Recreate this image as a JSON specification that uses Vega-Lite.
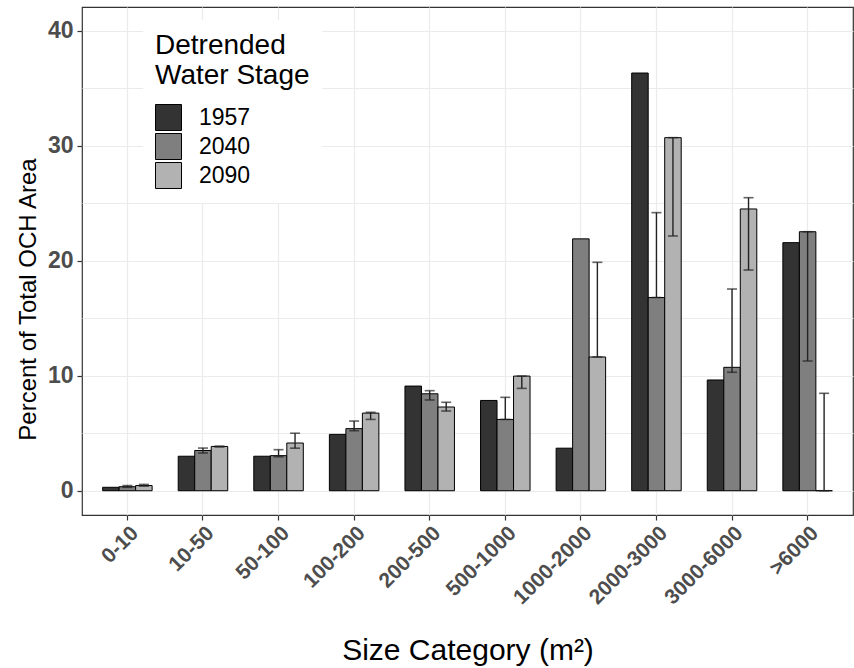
{
  "$schema": "https://vega.github.io/schema/vega-lite/v6.json",
  "autosize": "none",
  "width": 771,
  "height": 508,
  "padding": {"left": 82, "top": 7, "right": 1, "bottom": 153},
  "background": "white",
  "config": {
    "font": "Liberation Sans",
    "view": {"stroke": "#333333", "strokeWidth": 1.2}
  },
  "data": {
    "values": [
      {"size": "0-10", "year": "1957", "value": 0.3},
      {"size": "0-10", "year": "2040", "value": 0.35, "lo": 0.3, "hi": 0.45},
      {"size": "0-10", "year": "2090", "value": 0.45, "lo": 0.4, "hi": 0.55},
      {"size": "10-50", "year": "1957", "value": 3.0},
      {"size": "10-50", "year": "2040", "value": 3.5, "lo": 3.28, "hi": 3.71},
      {"size": "10-50", "year": "2090", "value": 3.85, "lo": 3.8, "hi": 3.88},
      {"size": "50-100", "year": "1957", "value": 3.0},
      {"size": "50-100", "year": "2040", "value": 3.05, "lo": 2.95, "hi": 3.57},
      {"size": "50-100", "year": "2090", "value": 4.15, "lo": 3.7, "hi": 5.0},
      {"size": "100-200", "year": "1957", "value": 4.9},
      {"size": "100-200", "year": "2040", "value": 5.4, "lo": 5.22, "hi": 6.06},
      {"size": "100-200", "year": "2090", "value": 6.75, "lo": 6.2, "hi": 6.82},
      {"size": "200-500", "year": "1957", "value": 9.1},
      {"size": "200-500", "year": "2040", "value": 8.43, "lo": 7.89, "hi": 8.7},
      {"size": "200-500", "year": "2090", "value": 7.28, "lo": 6.93, "hi": 7.69},
      {"size": "500-1000", "year": "1957", "value": 7.85},
      {"size": "500-1000", "year": "2040", "value": 6.2, "lo": 6.2, "hi": 8.12},
      {"size": "500-1000", "year": "2090", "value": 9.97, "lo": 8.9, "hi": 9.97},
      {"size": "1000-2000", "year": "1957", "value": 3.7},
      {"size": "1000-2000", "year": "2040", "value": 21.9},
      {"size": "1000-2000", "year": "2090", "value": 11.63, "lo": 11.63, "hi": 19.86},
      {"size": "2000-3000", "year": "1957", "value": 36.32},
      {"size": "2000-3000", "year": "2040", "value": 16.8, "lo": 16.8, "hi": 24.18},
      {"size": "2000-3000", "year": "2090", "value": 30.7, "lo": 22.15, "hi": 30.7},
      {"size": "3000-6000", "year": "1957", "value": 9.63},
      {"size": "3000-6000", "year": "2040", "value": 10.73, "lo": 10.3, "hi": 17.54},
      {"size": "3000-6000", "year": "2090", "value": 24.5, "lo": 19.19, "hi": 25.48},
      {"size": ">6000", "year": "1957", "value": 21.57},
      {"size": ">6000", "year": "2040", "value": 22.52, "lo": 11.28, "hi": 22.52},
      {"size": ">6000", "year": "2090", "value": 0, "lo": 0, "hi": 8.47}
    ]
  },
  "encoding": {
    "x": {
      "field": "size",
      "type": "nominal",
      "sort": ["0-10", "10-50", "50-100", "100-200", "200-500", "500-1000", "1000-2000", "2000-3000", "3000-6000", ">6000"],
      "scale": {"paddingInner": 0.345, "paddingOuter": 0.273},
      "title": "Size Category (m²)",
      "axis": {
        "bandPosition": 0.5,
        "domain": false,
        "grid": true,
        "gridColor": "#ebebeb",
        "gridWidth": 1.2,
        "ticks": true,
        "tickColor": "#333333",
        "tickSize": 5,
        "tickWidth": 1.2,
        "labelAngle": -45,
        "labelAlign": "right",
        "labelBaseline": "top",
        "labelFontSize": 21,
        "labelFontWeight": "bold",
        "labelColor": "#4d4d4d",
        "labelPadding": 2,
        "titleFontSize": 30,
        "titleFontWeight": "normal",
        "titleColor": "#000000",
        "titlePadding": 28
      }
    },
    "xOffset": {"field": "year", "type": "nominal", "scale": {"paddingInner": 0, "paddingOuter": 0}},
    "y": {
      "type": "quantitative",
      "scale": {"domain": [-2.11, 42.06], "nice": false, "zero": false},
      "title": "Percent of Total OCH Area",
      "axis": {
        "values": [0, 5, 10, 15, 20, 25, 30, 35, 40],
        "labelExpr": "datum.value % 10 === 0 ? datum.label : ''",
        "domain": false,
        "grid": true,
        "gridColor": "#ebebeb",
        "gridWidth": 1.2,
        "tickColor": "#333333",
        "tickSize": 5,
        "tickWidth": 1.2,
        "tickOpacity": {"condition": {"test": "datum.value % 10 === 0", "value": 1}, "value": 0},
        "labelFontSize": 23,
        "labelFontWeight": "bold",
        "labelColor": "#4d4d4d",
        "labelPadding": 4,
        "titleFontSize": 24,
        "titleFontWeight": "normal",
        "titleColor": "#000000",
        "titlePadding": 7,
        "titleY": 292
      }
    }
  },
  "layer": [
    {
      "mark": {"type": "bar", "stroke": "#000000", "strokeWidth": 1},
      "encoding": {
        "y": {"field": "value", "type": "quantitative"},
        "y2": {"datum": 0},
        "fill": {
          "field": "year",
          "type": "nominal",
          "scale": {"domain": ["1957", "2040", "2090"], "range": ["#333333", "#7f7f7f", "#b2b2b2"]},
          "legend": {
            "title": ["Detrended", "Water Stage"],
            "orient": "none",
            "legendX": 61,
            "legendY": 13,
            "fillColor": "white",
            "padding": 12,
            "titleFontSize": 28,
            "titleFontWeight": "normal",
            "titleColor": "#000000",
            "titleLineHeight": 30,
            "titlePadding": 14,
            "symbolType": "square",
            "symbolSize": 676,
            "symbolStrokeColor": "#000000",
            "symbolStrokeWidth": 1,
            "symbolOpacity": 1,
            "labelFontSize": 23,
            "labelColor": "#000000",
            "labelOffset": 17,
            "rowPadding": -2
          }
        }
      }
    },
    {
      "transform": [{"filter": "isValid(datum.lo)"}],
      "mark": {"type": "rule", "color": "#222222", "strokeWidth": 1.4},
      "encoding": {
        "y": {"field": "lo", "type": "quantitative"},
        "y2": {"field": "hi"}
      }
    },
    {
      "transform": [{"filter": "isValid(datum.lo)"}],
      "mark": {"type": "tick", "color": "#222222", "thickness": 1.6, "size": 10, "orient": "horizontal"},
      "encoding": {
        "y": {"field": "lo", "type": "quantitative"}
      }
    },
    {
      "transform": [{"filter": "isValid(datum.lo)"}],
      "mark": {"type": "tick", "color": "#222222", "thickness": 1.6, "size": 10, "orient": "horizontal"},
      "encoding": {
        "y": {"field": "hi", "type": "quantitative"}
      }
    }
  ]
}
